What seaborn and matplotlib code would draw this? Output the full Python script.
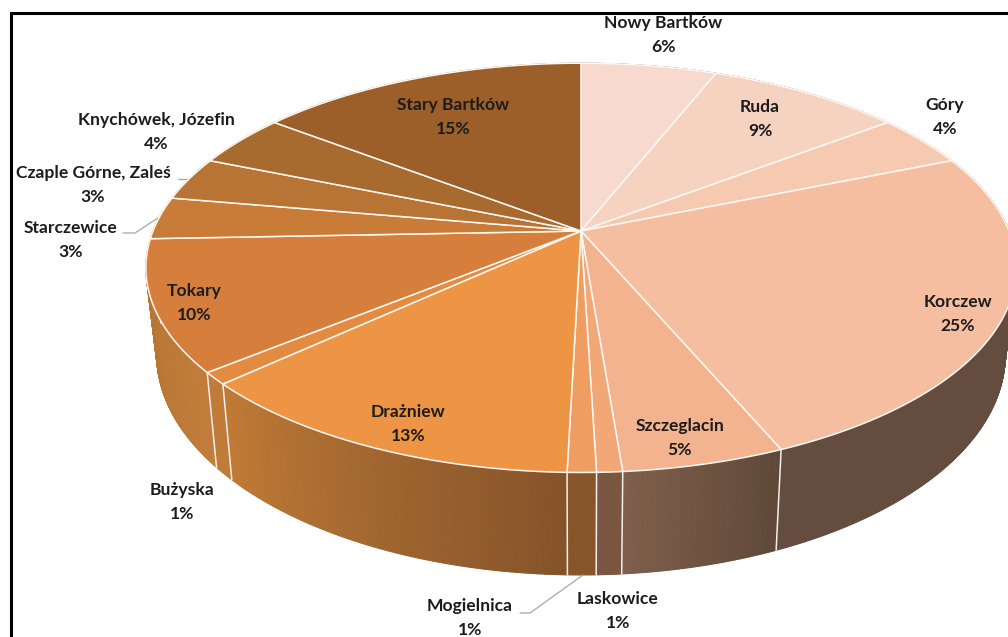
import numpy as np
import matplotlib
matplotlib.use("Agg")
import matplotlib.pyplot as plt
from matplotlib.collections import PolyCollection
import seaborn as sns

# udzial miejscowosci, zgodnie z ruchem wskazowek od godziny 12
miejscowosci = ["Nowy Bartków", "Ruda", "Góry", "Korczew", "Szczeglacin", "Laskowice", "Mogielnica",
                "Drażniew", "Bużyska", "Tokary", "Starczewice", "Czaple Górne, Zaleś",
                "Knychówek, Józefin", "Stary Bartków"]
udzial = [6.0, 8.6, 4.2, 24.8, 5.1, 0.8, 0.9, 12.7, 0.95, 10.3, 3.35, 3.45, 4.2, 14.6]

kolory_gora = ["#f8d9cd", "#f6d2c0", "#f6cab1", "#f6bea0", "#f3b38e", "#f2a777", "#f09d62",
               "#ee9545", "#e38b40", "#d67f3c", "#c97b38", "#b87435", "#a86b2f", "#9c5f29"]
# bok kazdego kawalka: kolor na poczatku i na koncu luku
kolory_bok = [("#634c3f", "#634c3f"), ("#634c3f", "#634c3f"), ("#634c3f", "#634c3f"),
              ("#634c3f", "#644d3f"), ("#5f4838", "#7f5f4b"), ("#7a5540", "#7a5540"),
              ("#87552a", "#87552a"), ("#85532a", "#c07b35"), ("#c07b38", "#c07b38"),
              ("#c27d3a", "#b0702f"), ("#b0702f", "#b0702f"), ("#b0702f", "#b0702f"),
              ("#9c5f29", "#9c5f29"), ("#9c5f29", "#9c5f29")]

# pozycje podpisow w pikselach: srodek, pierwszy wiersz
etykiety_x = [663, 760, 945, 958, 680, 618, 470, 408, 182, 194, 71, 93, 156, 453]
etykiety_y = [23, 107, 105, 302, 426, 599, 606, 412, 490, 291, 228, 173, 120, 105]

# rzut perspektywiczny kola
CX, CY = 581, 231
A, B, K = 428, 198, 0.18
GLEB = 84


def rzut(theta):
    x, y = np.sin(theta), np.cos(theta)
    d = 1 + K * y
    return CX + A * x / d, CY - B * y / d, y


def dol(theta):
    px, py, y = rzut(theta)
    return CX + 0.975 * (px - CX), py + GLEB / (1 + K * y)


sns.set_theme(style="white")
plt.rcParams["font.family"] = ["Lato", "DejaVu Sans"]

fig = plt.figure(figsize=(10.08, 6.37), dpi=100)
ax = fig.add_axes([0, 0, 1, 1])
ax.set_xlim(0, 1008)
ax.set_ylim(637, 0)
ax.axis("off")

granice = np.concatenate([[0], np.cumsum(udzial)]) / np.sum(udzial) * 2 * np.pi

# boki, malowane od tylu do przodu
czworokaty = []
for i in range(len(udzial)):
    n = max(int((granice[i + 1] - granice[i]) * 200), 2)
    kat = np.linspace(granice[i], granice[i + 1], n + 1)
    paleta = sns.blend_palette(kolory_bok[i], n_colors=n)
    for j in range(n):
        x0, y0, g0 = rzut(kat[j])
        x1, y1, g1 = rzut(kat[j + 1])
        x2, y2 = dol(kat[j + 1])
        x3, y3 = dol(kat[j])
        czworokaty.append((g0 + g1, [(x0, y0), (x1, y1), (x2, y2), (x3, y3)], paleta[j]))
czworokaty.sort(key=lambda c: -c[0])
ax.add_collection(PolyCollection([c[1] for c in czworokaty], facecolors=[c[2] for c in czworokaty],
                                 edgecolors=[c[2] for c in czworokaty], linewidths=0.8, zorder=1))

# biale linie miedzy bokami
for g in granice[1:-1]:
    px, py, y = rzut(g)
    if y < 0:
        qx, qy = dol(g)
        ax.plot([px, qx], [py, qy], color="#f2efec", lw=1.1, zorder=2)

# wierzch
for i in range(len(udzial)):
    kat = np.linspace(granice[i], granice[i + 1], 120)
    px, py, _ = rzut(kat)
    ax.fill(np.r_[CX, px], np.r_[CY, py], facecolor=kolory_gora[i], edgecolor="#fdf8f4",
            lw=1.1, joinstyle="round", zorder=3)

# linie odniesienia
linie = [([178, 190], [179, 179]), ([123, 135, 158], [233, 233, 218]), ([520, 530, 583], [613, 613, 575])]
for lx, ly in linie:
    ax.plot(lx, ly, color="#a6a6a6", lw=0.9, zorder=2)

for nazwa, u, x, y in zip(miejscowosci, udzial, etykiety_x, etykiety_y):
    ax.text(x, y, nazwa, ha="center", va="center", fontsize=12.6, fontweight="bold", color="#1c1c1c", zorder=5)
    ax.text(x, y + 24, f"{round(u)}%", ha="center", va="center", fontsize=12.6, fontweight="bold",
            color="#1c1c1c", zorder=5)

# ramka
ax.plot([10.5, 10.5, 1008], [637, 12.5, 12.5], color="black", lw=2.2, solid_joinstyle="miter", zorder=4)

fig.savefig("out.png", dpi=100)
